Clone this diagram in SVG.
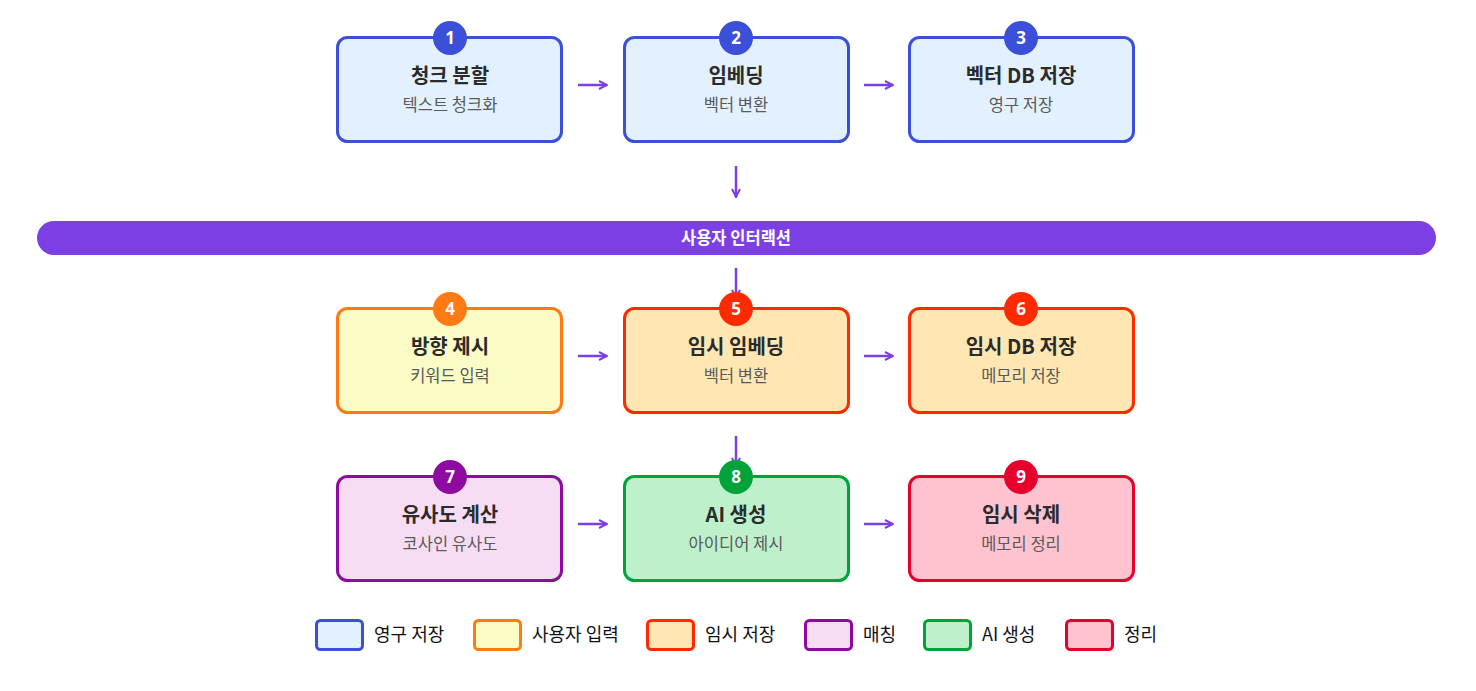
<svg xmlns="http://www.w3.org/2000/svg" width="1476" height="691" viewBox="0 0 1476 691">
<defs>
<marker id="ah" viewBox="0 0 10 10" refX="9" refY="5" markerWidth="10" markerHeight="10" markerUnits="userSpaceOnUse" orient="auto">
<path d="M1,1 L9,5 L1,9" fill="none" stroke="#7B3FE4" stroke-width="2"/>
</marker>
<style>
.box{stroke-width:3}
.title{font-family:"Noto Sans CJK KR","Noto Sans",sans-serif;font-weight:700;font-size:20px;fill:#2b2b2b;text-anchor:middle}
.sub{font-family:"Noto Sans CJK KR","Noto Sans",sans-serif;font-size:16.5px;fill:#5a5a5a;text-anchor:middle}
.num{font-family:"Noto Sans","Noto Sans CJK KR",sans-serif;font-weight:700;font-size:17px;fill:#fff;text-anchor:middle}
.lg{font-family:"Noto Sans CJK KR","Noto Sans",sans-serif;font-size:18px;fill:#111}
.conn{stroke:#7B3FE4;stroke-width:2.5;fill:none;marker-end:url(#ah)}
.blue{fill:#E3F0FD;stroke:#3B4FD8}
.orange{fill:#FBFBC5;stroke:#FF7A12}
.red{fill:#FFE6B3;stroke:#FF2A00}
.purple{fill:#F7DDF3;stroke:#8E0AA0}
.green{fill:#BEF0CB;stroke:#00A33A}
.crimson{fill:#FFC2CF;stroke:#E8002D}
</style>
</defs>
<rect width="1476" height="691" fill="#fff"/>

<g id="connectors">
<line class="conn" x1="578" y1="85" x2="607" y2="85"/>
<line class="conn" x1="864" y1="85" x2="893" y2="85"/>
<line class="conn" x1="736" y1="166" x2="736" y2="197"/>
<line class="conn" x1="736" y1="268" x2="736" y2="298"/>
<line class="conn" x1="578" y1="356" x2="607" y2="356"/>
<line class="conn" x1="864" y1="356" x2="893" y2="356"/>
<line class="conn" x1="736" y1="436" x2="736" y2="466"/>
<line class="conn" x1="578" y1="524" x2="607" y2="524"/>
<line class="conn" x1="864" y1="524" x2="893" y2="524"/>
</g>

<g id="banner">
<rect x="37" y="221" width="1399" height="34" rx="17" fill="#7B3FE4"/>
<text x="736" y="244" font-family="Noto Sans CJK KR,Noto Sans,sans-serif" font-weight="700" font-size="16.5" fill="#fff" text-anchor="middle">사용자 인터랙션</text>
</g>

<g id="node1">
<rect class="box blue" x="337.5" y="37.5" width="224" height="104" rx="10"/>
<circle cx="450" cy="38" r="17" fill="#3B4FD8"/>
<text class="num" x="450" y="44">1</text>
<text class="title" x="450" y="83">청크 분할</text>
<text class="sub" x="450" y="111">텍스트 청크화</text>
</g>
<g id="node2">
<rect class="box blue" x="624.5" y="37.5" width="224" height="104" rx="10"/>
<circle cx="736" cy="38" r="17" fill="#3B4FD8"/>
<text class="num" x="736" y="44">2</text>
<text class="title" x="736" y="83">임베딩</text>
<text class="sub" x="736" y="111">벡터 변환</text>
</g>
<g id="node3">
<rect class="box blue" x="909.5" y="37.5" width="224" height="104" rx="10"/>
<circle cx="1021" cy="38" r="17" fill="#3B4FD8"/>
<text class="num" x="1021" y="44">3</text>
<text class="title" x="1021" y="83">벡터 DB 저장</text>
<text class="sub" x="1021" y="111">영구 저장</text>
</g>

<g id="node4">
<rect class="box orange" x="337.5" y="308.5" width="224" height="104" rx="10"/>
<circle cx="450" cy="309" r="17" fill="#FF7A12"/>
<text class="num" x="450" y="315">4</text>
<text class="title" x="450" y="354">방향 제시</text>
<text class="sub" x="450" y="382">키워드 입력</text>
</g>
<g id="node5">
<rect class="box red" x="624.5" y="308.5" width="224" height="104" rx="10"/>
<circle cx="736" cy="309" r="17" fill="#FF2A00"/>
<text class="num" x="736" y="315">5</text>
<text class="title" x="736" y="354">임시 임베딩</text>
<text class="sub" x="736" y="382">벡터 변환</text>
</g>
<g id="node6">
<rect class="box red" x="909.5" y="308.5" width="224" height="104" rx="10"/>
<circle cx="1021" cy="309" r="17" fill="#FF2A00"/>
<text class="num" x="1021" y="315">6</text>
<text class="title" x="1021" y="354">임시 DB 저장</text>
<text class="sub" x="1021" y="382">메모리 저장</text>
</g>

<g id="node7">
<rect class="box purple" x="337.5" y="476.5" width="224" height="104" rx="10"/>
<circle cx="450" cy="477" r="17" fill="#8E0AA0"/>
<text class="num" x="450" y="483">7</text>
<text class="title" x="450" y="522">유사도 계산</text>
<text class="sub" x="450" y="550">코사인 유사도</text>
</g>
<g id="node8">
<rect class="box green" x="624.5" y="476.5" width="224" height="104" rx="10"/>
<circle cx="736" cy="477" r="17" fill="#00A33A"/>
<text class="num" x="736" y="483">8</text>
<text class="title" x="736" y="522">AI 생성</text>
<text class="sub" x="736" y="550">아이디어 제시</text>
</g>
<g id="node9">
<rect class="box crimson" x="909.5" y="476.5" width="224" height="104" rx="10"/>
<circle cx="1021" cy="477" r="17" fill="#E8002D"/>
<text class="num" x="1021" y="483">9</text>
<text class="title" x="1021" y="522">임시 삭제</text>
<text class="sub" x="1021" y="550">메모리 정리</text>
</g>

<g id="legend">
<rect class="box blue" x="316.5" y="620.5" width="46" height="29" rx="4"/>
<text class="lg" x="374" y="641">영구 저장</text>
<rect class="box orange" x="474.5" y="620.5" width="46" height="29" rx="4"/>
<text class="lg" x="532" y="641">사용자 입력</text>
<rect class="box red" x="647.5" y="620.5" width="46" height="29" rx="4"/>
<text class="lg" x="705" y="641">임시 저장</text>
<rect class="box purple" x="805.5" y="620.5" width="46" height="29" rx="4"/>
<text class="lg" x="863" y="641">매칭</text>
<rect class="box green" x="924.5" y="620.5" width="46" height="29" rx="4"/>
<text class="lg" x="982" y="641">AI 생성</text>
<rect class="box crimson" x="1066.5" y="620.5" width="46" height="29" rx="4"/>
<text class="lg" x="1124" y="641">정리</text>
</g>
</svg>
